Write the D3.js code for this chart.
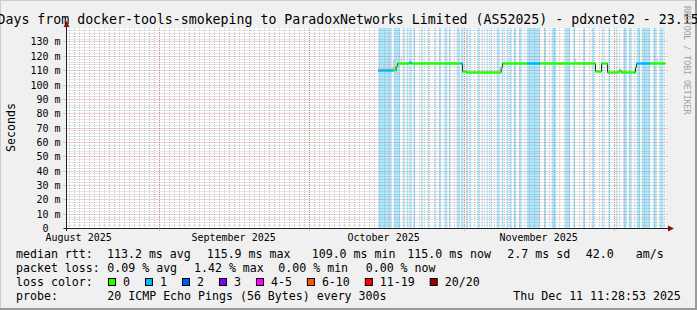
<!DOCTYPE html>
<html>
<head>
<meta charset="utf-8">
<script src="https://cdn.jsdelivr.net/npm/d3@7"></script>
<style>
  html, body { margin: 0; padding: 0; background: #f0f0f0; }
  svg { display: block; font-family: "DejaVu Sans Mono", monospace; }
  text { white-space: pre; }
</style>
</head>
<body>
<div class="chart"></div>
<script>
// Data
const title = '120 Days from docker-tools-smokeping to ParadoxNetworks Limited (AS52025) - pdxnet02 - 23.15';
const startTime = '2025-08-13T11:28:53Z';
const endTime = '2025-12-11T11:28:53Z';
const yMax = 139.4;
const yTicks = [0, 10, 20, 30, 40, 50, 60, 70, 80, 90, 100, 110, 120, 130];
const monthLabels = ['2025-08-16', '2025-09-16', '2025-10-16', '2025-11-16'];

// periods with packet loss (light blue background bars)
const lossStart = [
    '2025-10-14T23', '2025-10-18T03', '2025-10-19T20', '2025-10-20T15', '2025-10-21T07',
    '2025-10-21T23', '2025-10-23T12', '2025-10-24T20', '2025-10-26T07', '2025-10-27T03',
    '2025-10-28T07', '2025-10-29T03', '2025-10-30T15', '2025-10-31T12', '2025-11-01T12',
    '2025-11-02T07', '2025-11-03T18', '2025-11-04T15', '2025-11-05T15', '2025-11-06T10',
    '2025-11-07T15', '2025-11-08T15', '2025-11-09T15', '2025-11-10T07', '2025-11-11T02',
    '2025-11-12T03', '2025-11-13T15', '2025-11-17T02', '2025-11-18T15', '2025-11-21T07',
    '2025-11-22T23', '2025-11-24T20', '2025-11-26T15', '2025-11-28T15', '2025-11-29T23',
    '2025-12-01T12', '2025-12-02T23', '2025-12-04T03', '2025-12-05T15', '2025-12-06T15',
    '2025-12-08T23', '2025-12-10T07'
];
const lossEnd = [
    '2025-10-17T15', '2025-10-19T07', '2025-10-20T03', '2025-10-20T23', '2025-10-21T15',
    '2025-10-22T07', '2025-10-23T20', '2025-10-25T02', '2025-10-26T12', '2025-10-27T12',
    '2025-10-28T18', '2025-10-29T10', '2025-10-31T03', '2025-10-31T23', '2025-11-01T21',
    '2025-11-02T12', '2025-11-04T03', '2025-11-04T20', '2025-11-05T20', '2025-11-06T16',
    '2025-11-08T02', '2025-11-08T23', '2025-11-09T23', '2025-11-10T15', '2025-11-11T12',
    '2025-11-12T15', '2025-11-16T07', '2025-11-17T12', '2025-11-19T12', '2025-11-22T07',
    '2025-11-23T07', '2025-11-25T07', '2025-11-27T02', '2025-11-28T23', '2025-11-30T07',
    '2025-12-01T18', '2025-12-03T15', '2025-12-04T15', '2025-12-06T07', '2025-12-08T07',
    '2025-12-09T15', '2025-12-10T23'
];

// median rtt (ms) as steps, with number of lost pings per step
const medianTimes = [
    '2025-10-14T21', '2025-10-17T21', '2025-10-18T12', '2025-10-18T19', '2025-10-21T04',
    '2025-10-21T14', '2025-10-31T07', '2025-10-31T19', '2025-11-01T12', '2025-11-08T12',
    '2025-11-08T19', '2025-11-13T16', '2025-11-16T07', '2025-11-27T09', '2025-11-28T14',
    '2025-11-29T19', '2025-12-02T02', '2025-12-02T12', '2025-12-05T09', '2025-12-05T14',
    '2025-12-08T07', '2025-12-11T09'
];
const medianValues = [
    110.0, 110.0, 112.6, 115.3, 115.9,
    115.3, 115.3, 109.3, 109.0, 112.0,
    115.3, 115.3, 115.3, 109.3, 115.3,
    109.0, 110.0, 109.0, 112.0, 115.3,
    115.3, 115.3
];
const medianLoss = [
    1, 0, 0, 0, 1,
    0, 1, 0, 0, 0,
    0, 1, 0, 0, 0,
    0, 0, 0, 0, 1,
    0, 0
];

// smoke (spread of the pings around the median)
const smokeStart = ['2025-10-14T21', '2025-10-16T21', '2025-10-17T21', '2025-10-19T10', '2025-11-23T07', '2025-12-09T16'];
const smokeEnd = ['2025-10-18T12', '2025-10-17T02', '2025-10-18T02', '2025-10-19T15', '2025-11-23T12', '2025-12-09T21'];
const smokeLow = [110.2, 112.0, 112.0, 115.8, 115.8, 115.8];
const smokeHigh = [112.2, 118.5, 117.0, 119.0, 118.0, 118.0];

const lossLabels = ['0', '1', '2', '3', '4-5', '6-10', '11-19', '20/20'];
const lossColors = ['#26ff00', '#00b8ff', '#0059ff', '#7e00ff', '#ff00ff', '#ff5500', '#ff0000', '#a00000'];

const rttLegend = ['median rtt:', '113.2 ms avg', '115.9 ms max', '109.0 ms min', '115.0 ms now', '2.7 ms sd', '42.0', 'am/s'];
const lossLegend = ['packet loss:', '0.09 % avg', '1.42 % max', '0.00 % min', '0.00 % now'];
const probeLegend = ['probe:', '20 ICMP Echo Pings (56 Bytes) every 300s', 'Thu Dec 11 11:28:53 2025'];

// Layout
const dimensions = {
    width: 697,
    height: 310,
    left: 66,
    plotWidth: 600,
    top: 28,
    bottom: 228
};
const rttX = [16, 107, 206.7, 311.7, 407.3, 507.3, 585.7, 635.7];
const lossX = [16, 107.3, 194, 278.3, 365.7];
const probeX = [16, 107.3, 513.3];

const parse = s => new Date(s.length === 13 ? s + ':00:00Z' : s.length === 10 ? s + 'T00:00:00Z' : s);

const svg = d3.select('.chart')
    .append('svg')
    .attr('width', dimensions.width)
    .attr('height', dimensions.height);

// background + frame
svg.append('rect').attr('width', dimensions.width).attr('height', dimensions.height).attr('fill', '#f0f0f0');
svg.append('path').attr('d', `M0,${dimensions.height}V0H${dimensions.width}`)
    .attr('fill', 'none').attr('stroke', '#cccccc').attr('stroke-width', 2);
svg.append('path').attr('d', `M0,${dimensions.height - 1}H${dimensions.width - 1}V0`)
    .attr('fill', 'none').attr('stroke', '#999999').attr('stroke-width', 2);

// Scales
const xScale = d3.scaleUtc()
    .domain([parse(startTime), parse(endTime)])
    .range([dimensions.left, dimensions.left + dimensions.plotWidth]);
const yScale = d3.scaleLinear()
    .domain([0, yMax])
    .range([dimensions.bottom, dimensions.top]);

const x0 = dimensions.left + 0.5;
const x1 = dimensions.left + dimensions.plotWidth;

// canvas
svg.append('rect')
    .attr('x', x0).attr('y', dimensions.top)
    .attr('width', x1 - x0).attr('height', dimensions.bottom - dimensions.top)
    .attr('fill', '#ffffff');

// loss bars
svg.append('g').selectAll('rect')
    .data(lossStart.map((d, i) => [parse(d), parse(lossEnd[i])]))
    .join('rect')
    .attr('x', d => xScale(d[0]))
    .attr('width', d => xScale(d[1]) - xScale(d[0]))
    .attr('y', dimensions.top)
    .attr('height', dimensions.bottom - dimensions.top)
    .attr('fill', '#00b8ff')
    .attr('fill-opacity', 0.32);

// grid
const grid = svg.append('g');
const minorY = d3.range(0, yMax, 2).filter(v => v % 10 !== 0);
grid.selectAll('.hminor')
    .data(minorY)
    .join('line')
    .attr('x1', x0).attr('x2', x1)
    .attr('y1', d => Math.round(yScale(d)) + 0.5).attr('y2', d => Math.round(yScale(d)) + 0.5)
    .attr('stroke', '#8c8c8c').attr('stroke-opacity', 0.45).attr('stroke-dasharray', '1,1');
const days = d3.utcDay.range(xScale.domain()[0], xScale.domain()[1]);
grid.selectAll('.vminor')
    .data(days)
    .join('line')
    .attr('x1', d => Math.round(xScale(d)) + 0.5).attr('x2', d => Math.round(xScale(d)) + 0.5)
    .attr('y1', dimensions.top).attr('y2', dimensions.bottom)
    .attr('stroke', '#8c8c8c').attr('stroke-opacity', 0.45).attr('stroke-dasharray', '1,1');
grid.selectAll('.hmajor')
    .data(yTicks.filter(v => v > 0))
    .join('line')
    .attr('x1', x0 - 3).attr('x2', x1 + 2)
    .attr('y1', d => Math.round(yScale(d)) + 0.5).attr('y2', d => Math.round(yScale(d)) + 0.5)
    .attr('stroke', '#d23c3c').attr('stroke-opacity', 0.5).attr('stroke-dasharray', '1,1');
const months = d3.utcMonth.range(xScale.domain()[0], xScale.domain()[1]);
grid.selectAll('.vmajor')
    .data(months)
    .join('line')
    .attr('x1', d => Math.round(xScale(d)) + 0.5).attr('x2', d => Math.round(xScale(d)) + 0.5)
    .attr('y1', dimensions.top).attr('y2', dimensions.bottom + 3)
    .attr('stroke', '#d23c3c').attr('stroke-opacity', 0.5).attr('stroke-dasharray', '1,1');

// smoke
svg.append('g').selectAll('rect')
    .data(smokeStart.map((d, i) => ({ t0: parse(d), t1: parse(smokeEnd[i]), lo: smokeLow[i], hi: smokeHigh[i] })))
    .join('rect')
    .attr('x', d => xScale(d.t0))
    .attr('width', d => Math.max(1, xScale(d.t1) - xScale(d.t0)))
    .attr('y', d => yScale(d.hi))
    .attr('height', d => yScale(d.lo) - yScale(d.hi))
    .attr('fill', '#c8c8c8');

// median line
const steps = medianTimes.map((d, i) => ({ t: parse(d), v: medianValues[i], loss: medianLoss[i] }));
const line = d3.line()
    .x(d => xScale(d.t))
    .y(d => Math.round(yScale(d.v)) + 0.5)
    .curve(d3.curveStepAfter);
svg.append('path')
    .attr('d', line(steps))
    .attr('fill', 'none')
    .attr('stroke', '#202020')
    .attr('stroke-width', 1);
svg.append('g').selectAll('line')
    .data(steps.slice(0, -1).map((d, i) => ({ ...d, t1: steps[i + 1].t })))
    .join('line')
    .attr('x1', d => xScale(d.t)).attr('x2', d => xScale(d.t1))
    .attr('y1', d => Math.round(yScale(d.v)) + 0.5).attr('y2', d => Math.round(yScale(d.v)) + 0.5)
    .attr('stroke', d => lossColors[d.loss])
    .attr('stroke-width', 2.5);

// Axis
svg.append('path')
    .attr('d', `M${x0 - 3},${dimensions.bottom + 0.5}H${x1 + 2}M${x0},${dimensions.bottom + 3}V${dimensions.top - 2}`)
    .attr('stroke', '#202020').attr('fill', 'none');
svg.append('path')
    .attr('d', `M${x0 - 3},${dimensions.top - 1}L${x0},${dimensions.top - 7}L${x0 + 3},${dimensions.top - 1}Z`)
    .attr('fill', '#8b1010');
svg.append('path')
    .attr('d', `M${x1 + 2},${dimensions.bottom - 2.5}L${x1 + 8},${dimensions.bottom + 0.5}L${x1 + 2},${dimensions.bottom + 3.5}Z`)
    .attr('fill', '#8b1010');

svg.append('g').selectAll('text')
    .data(yTicks)
    .join('text')
    .attr('x', x0 - 6)
    .attr('y', d => Math.round(yScale(d)) + 0.5)
    .attr('dy', '0.35em')
    .attr('text-anchor', 'end')
    .attr('font-size', 10)
    .attr('fill', '#000')
    .text(d => d === 0 ? '0  ' : `${d} m`);

svg.append('g').selectAll('text')
    .data(monthLabels.map(parse))
    .join('text')
    .attr('x', d => xScale(d))
    .attr('y', 240.5)
    .attr('text-anchor', 'middle')
    .attr('font-size', 10)
    .attr('fill', '#000')
    .text(d => d3.utcFormat('%B %Y')(d));

svg.append('text')
    .attr('transform', 'translate(15,127.5) rotate(-90)')
    .attr('text-anchor', 'middle')
    .attr('font-size', 11.6)
    .text('Seconds');

// Title
svg.append('text')
    .attr('x', -34.4)
    .attr('y', 24)
    .attr('font-size', 13.24)
    .text(title);

svg.append('text')
    .attr('transform', 'translate(684,6) rotate(90)')
    .attr('font-size', 8.2)
    .attr('fill', '#a0a0a0')
    .text('RRDTOOL / TOBI OETIKER');

// Legend
const legendFont = 11.6;
const rowY = [258, 272, 286, 300];
[[rttLegend, rttX], [lossLegend, lossX], [probeLegend, probeX]].forEach(([items, xs], r) => {
    const row = r === 2 ? 3 : r;
    svg.append('g').selectAll('text')
        .data(items)
        .join('text')
        .attr('x', (d, i) => xs[i])
        .attr('y', rowY[row])
        .attr('font-size', legendFont)
        .text(d => d);
});

const lossRow = svg.append('g');
lossRow.append('text').attr('x', 16).attr('y', rowY[2]).attr('font-size', legendFont).text('loss color:');
let cursor = 108;
lossLabels.forEach((label, i) => {
    lossRow.append('rect')
        .attr('x', cursor + 0.5).attr('y', rowY[2] - 7.5)
        .attr('width', 7).attr('height', 7)
        .attr('fill', lossColors[i])
        .attr('stroke', '#000');
    const t = lossRow.append('text')
        .attr('x', cursor + 15).attr('y', rowY[2])
        .attr('font-size', legendFont)
        .text(label);
    cursor += 15 + t.node().getComputedTextLength() + 15;
});
</script>
</body>
</html>
